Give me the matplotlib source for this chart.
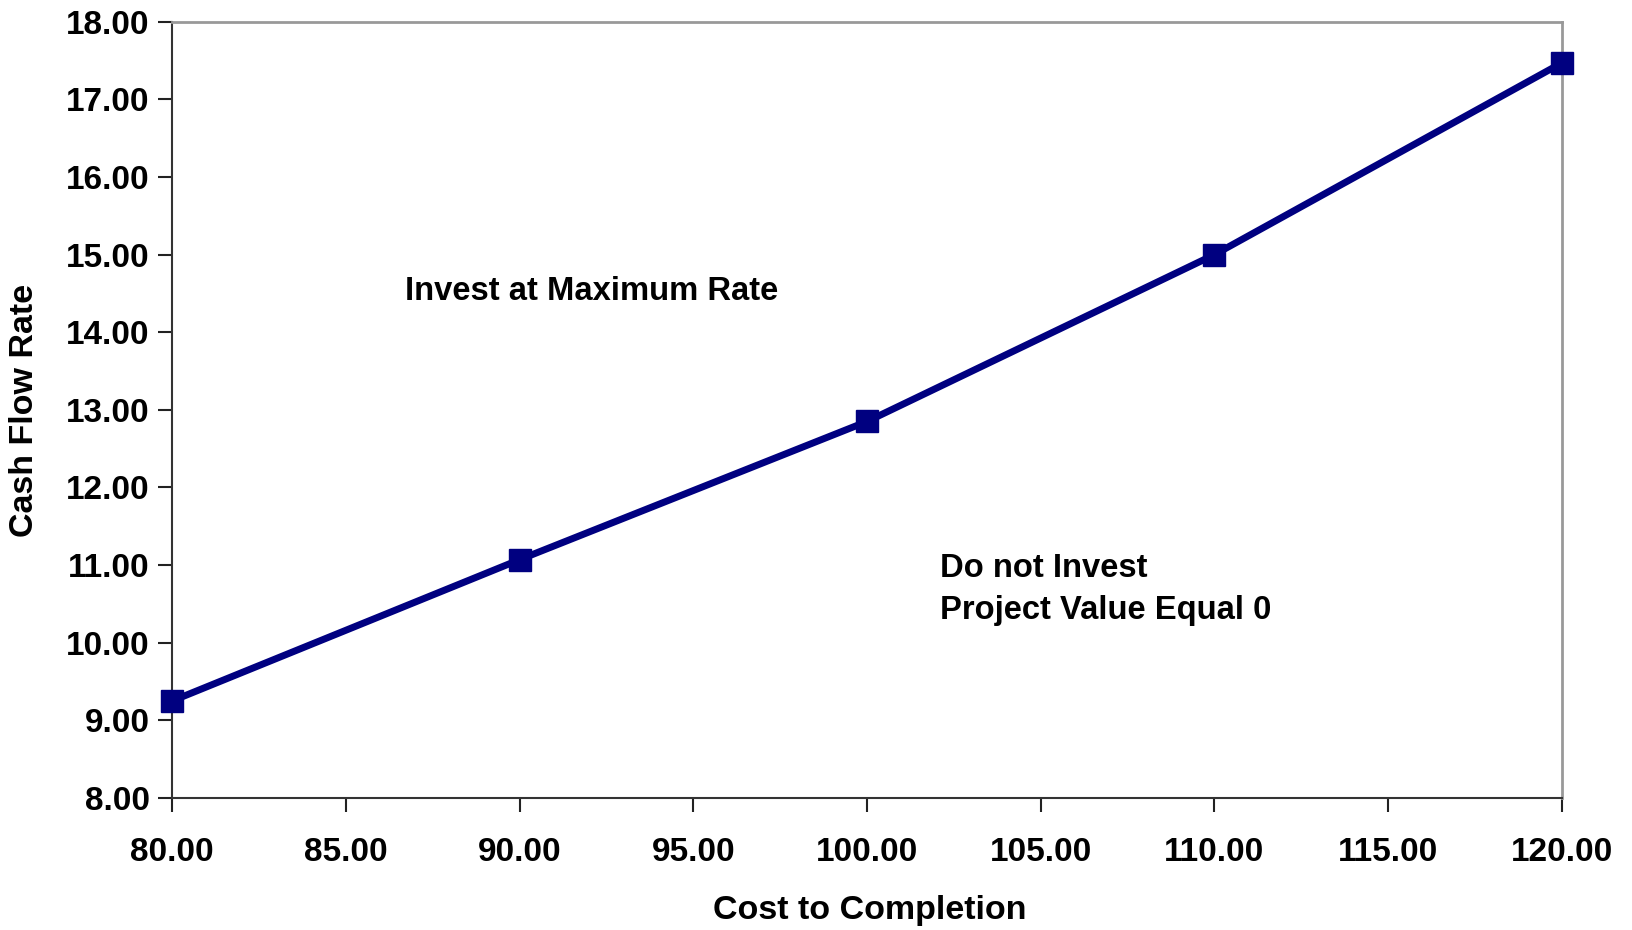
import matplotlib
matplotlib.use("Agg")
import matplotlib.pyplot as plt
from matplotlib.ticker import FormatStrFormatter, MultipleLocator

cost = [80, 90, 100, 110, 120]
cash_flow = [9.25, 11.07, 12.85, 15.00, 17.47]

plt.rcParams['font.family'] = ['Liberation Sans', 'DejaVu Sans']
plt.rcParams['font.weight'] = 'bold'

fig = plt.figure(figsize=(16.33, 9.30), dpi=100)
ax = fig.add_axes([172/1633, 1-798/930, (1562-172)/1633, (798-21.7)/930])

ax.plot(cost, cash_flow, color='#000080', linewidth=5, marker='s', markersize=16,
        markerfacecolor='#000080', markeredgecolor='#000080', clip_on=False, zorder=3)

ax.set_xlim(80, 120)
ax.set_ylim(8, 18)
ax.xaxis.set_major_locator(MultipleLocator(5))
ax.yaxis.set_major_locator(MultipleLocator(1))
ax.xaxis.set_major_formatter(FormatStrFormatter('%.2f'))
ax.yaxis.set_major_formatter(FormatStrFormatter('%.2f'))
ax.tick_params(axis='both', direction='out', length=10, width=1.5, labelsize=24, color='#222222')
ax.tick_params(axis='x', pad=18)
ax.tick_params(axis='y', pad=6)
for lab in ax.get_xticklabels() + ax.get_yticklabels():
    lab.set_fontweight('bold')

ax.spines['left'].set_color('#333333')
ax.spines['bottom'].set_color('#333333')
ax.spines['left'].set_linewidth(1.5)
ax.spines['bottom'].set_linewidth(1.5)
ax.spines['top'].set_color('#999999')
ax.spines['right'].set_color('#999999')
ax.spines['top'].set_linewidth(2)
ax.spines['right'].set_linewidth(2)

fig.text(870/1633, 1-910/930, 'Cost to Completion', ha='center', va='center',
         fontsize=24.5, fontweight='bold')
fig.text(25/1633, 1-410/930, 'Cash Flow Rate', ha='center', va='center',
         rotation=90, fontsize=24.5, fontweight='bold')

ax.text(86.7, 14.52, 'Invest at Maximum Rate', ha='left', va='center',
        fontsize=23.6, fontweight='bold')
ax.text(102.1, 10.95, 'Do not Invest', ha='left', va='center',
        fontsize=23.6, fontweight='bold')
ax.text(102.1, 10.41, 'Project Value Equal 0', ha='left', va='center',
        fontsize=23.6, fontweight='bold')

fig.savefig('out.png', dpi=100)
